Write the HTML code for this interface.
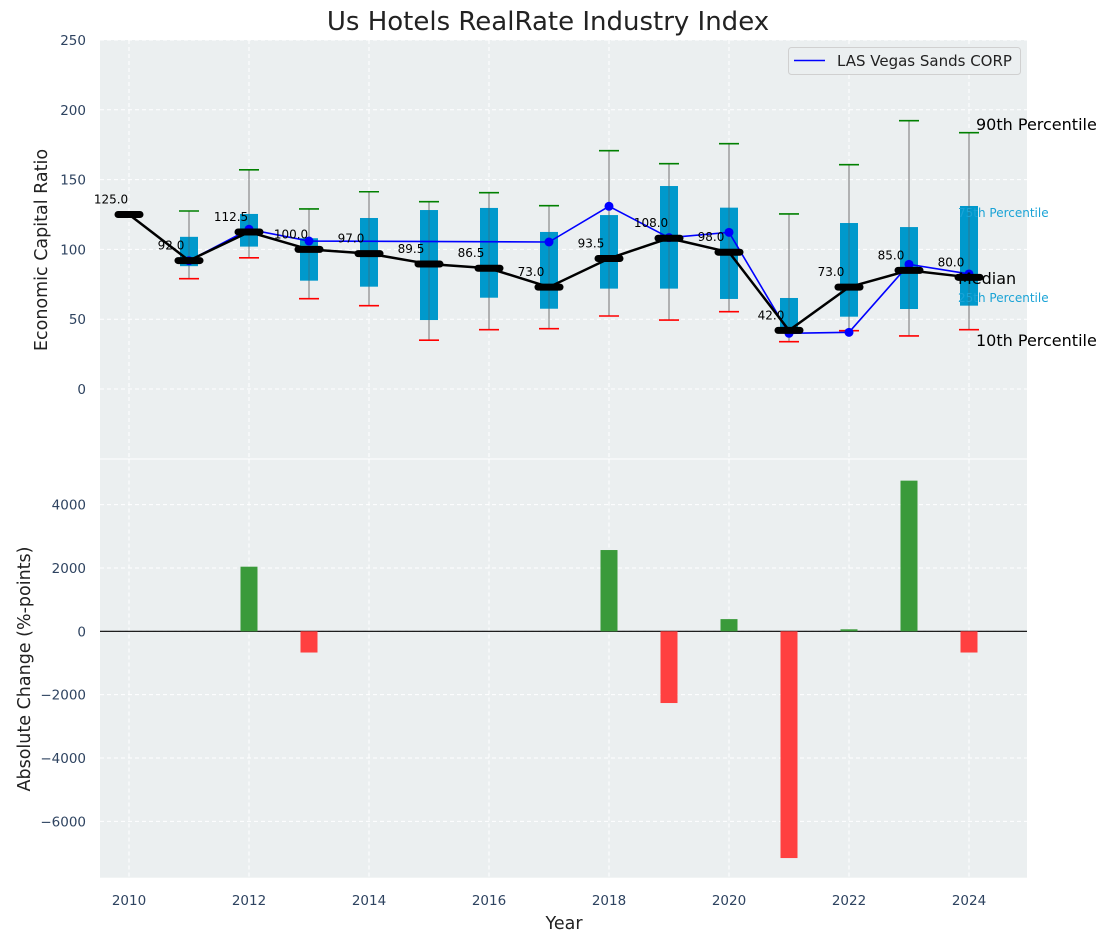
<!DOCTYPE html>
<html><head><meta charset="utf-8">
<style>
html,body{margin:0;padding:0;background:#fff;}
svg text{font-family:"DejaVu Sans","Liberation Sans",sans-serif;}
</style></head>
<body>
<svg id="chart" width="1111" height="942" xmlns="http://www.w3.org/2000/svg"></svg>
<script>
const years=[2010,2011,2012,2013,2014,2015,2016,2017,2018,2019,2020,2021,2022,2023,2024];
const medians=[125,92,112.5,100,97,89.5,86.5,73,93.5,108,98,42,73,85,80];
const p10=[null,79,94,64.7,59.7,35,42.5,43.2,52.3,49.4,55.4,33.9,41.8,38,42.5];
const p25=[null,88,102,77.6,73.3,49.4,65.4,57.5,71.9,71.9,64.5,40,51.8,57.3,59.7];
const p75=[null,109,125.4,108,122.5,128.2,129.7,112.5,124.6,145.4,129.9,65.2,118.9,116,131.1];
const p90=[null,127.5,157,129,141.3,134.2,140.6,131.3,170.7,161.4,175.7,125.4,160.7,192.2,183.6];
const compYears=[2011,2012,2013,2017,2018,2019,2020,2021,2022,2023,2024];
const compValues=[91.9,114.4,106,105.3,130.9,108.4,112.2,39.9,40.6,89.3,82.4];
const changeYears=[2012,2013,2018,2019,2020,2021,2022,2023,2024];
const changeValues=[2040,-670,2566,-2265,385,-7160,63,4757,-670];
const topTicks=[0,50,100,150,200,250];
const botTicks=[-6000,-4000,-2000,0,2000,4000];
const xTicks=[2010,2012,2014,2016,2018,2020,2022,2024];

const NS="http://www.w3.org/2000/svg";
const svg=document.getElementById('chart');
function el(tag,attrs,parent,text){const e=document.createElementNS(NS,tag);for(const k in attrs)e.setAttribute(k,attrs[k]);if(text!==undefined)e.textContent=text;(parent||svg).appendChild(e);return e;}
const L=100,R=1027,T1=40,B1=458.5,T2=459.5,B2=877.7;
const X=v=>129+(v-2010)*60;
const Y1=v=>389-v*1.396;
const Y2=v=>631.3-v*0.03167;

let t=el('text',{x:548,y:30,'text-anchor':'middle','font-size':26,fill:'#222'},svg,'Us Hotels RealRate Industry Index');


let g1=el('g',{});
el('rect',{x:L,y:T1,width:R-L,height:B1-T1,fill:'#ebeff0'},g1);
let g2=el('g',{});
el('rect',{x:L,y:T2,width:R-L,height:B2-T2,fill:'#ebeff0'},g2);

xTicks.forEach(v=>{
 el('line',{x1:X(v),x2:X(v),y1:T1,y2:B1,stroke:'#fff','stroke-dasharray':'4,3','stroke-width':1},g1);
 el('line',{x1:X(v),x2:X(v),y1:T2,y2:B2,stroke:'#fff','stroke-dasharray':'4,3','stroke-width':1},g2);
 let tl=el('text',{x:X(v),y:905,'text-anchor':'middle','font-size':13.5,fill:'#2e4360'},svg,String(v));
 
});
topTicks.forEach(v=>{
 el('line',{x1:L,x2:R,y1:Y1(v),y2:Y1(v),stroke:'#fff','stroke-dasharray':'4,3','stroke-width':1},g1);
 let tl=el('text',{x:86,y:Y1(v)+5,'text-anchor':'end','font-size':13.5,fill:'#2e4360'},svg,String(v));
 
});
botTicks.forEach(v=>{
 el('line',{x1:L,x2:R,y1:Y2(v),y2:Y2(v),stroke:'#fff','stroke-dasharray':'4,3','stroke-width':1},g2);
 let tl=el('text',{x:86,y:Y2(v)+5,'text-anchor':'end','font-size':13.5,fill:'#2e4360'},svg,String(v).replace('-','\u2212'));
 
});

years.forEach((yr,i)=>{
 if(p10[i]===null)return;
 const x=X(yr);
 let w=el('line',{x1:x,x2:x,y1:Y1(p10[i]),y2:Y1(p90[i]),stroke:'#888','stroke-width':1.2},g1);
 
 let b=el('rect',{x:x-9,y:Y1(p75[i]),width:18,height:Y1(p25[i])-Y1(p75[i]),fill:'#0099cc'},g1);
 
 el('line',{x1:x,x2:x,y1:Y1(p25[i]),y2:Y1(p75[i]),stroke:'#555','stroke-width':1,'stroke-opacity':0.5},g1);
 let c1=el('line',{x1:x-10,x2:x+10,y1:Y1(p90[i]),y2:Y1(p90[i]),stroke:'green','stroke-width':1.6},g1);
 
 let c2=el('line',{x1:x-10,x2:x+10,y1:Y1(p10[i]),y2:Y1(p10[i]),stroke:'red','stroke-width':1.6},g1);
 
});

let cp=compYears.map((y,i)=>X(y)+','+Y1(compValues[i])).join(' ');
let cl=el('polyline',{points:cp,fill:'none',stroke:'#0000ff','stroke-width':1.6},g1);

compYears.forEach((y,i)=>{
 let d=el('circle',{cx:X(y),cy:Y1(compValues[i]),r:4.5,fill:'#0000ff'},g1);
 
});

let mp=years.map((y,i)=>X(y)+','+Y1(medians[i])).join(' ');
let ml=el('polyline',{points:mp,fill:'none',stroke:'#000','stroke-width':2.5},g1);

years.forEach((y,i)=>{
 let m=el('line',{x1:X(y)-11,x2:X(y)+11,y1:Y1(medians[i]),y2:Y1(medians[i]),stroke:'#000','stroke-width':7,'stroke-linecap':'round'},g1);
 
 let lb=el('text',{x:X(y)-18,y:Y1(medians[i])-11,'text-anchor':'middle','font-size':12,fill:'#000'},svg,medians[i].toFixed(1));
 
});

el('line',{x1:L,x2:R,y1:Y2(0),y2:Y2(0),stroke:'#000','stroke-width':1.2},g2);
changeYears.forEach((y,i)=>{
 const v=changeValues[i];
 const y0=Y2(Math.max(v,0)),y1=Y2(Math.min(v,0));
 let b=el('rect',{x:X(y)-8.5,y:y0,width:17,height:Math.max(y1-y0,0.5),fill:v>=0?'#3a9a3a':'#ff4040'},g2);
 
});

let lg=el('g',{});
el('rect',{x:788.5,y:47.5,width:232,height:27,rx:3,fill:'#ebeff0',stroke:'#d0d0d0'},lg);
el('line',{x1:794,x2:825,y1:60.5,y2:60.5,stroke:'#0000ff','stroke-width':1.6},lg);
el('text',{x:837,y:66,'font-size':15,fill:'#222'},lg,'LAS Vegas Sands CORP');

const ann=[['90th Percentile',976,130,16,'#000'],['75th Percentile',958,217,12,'#1aa3d6'],['Median',958,284,16,'#000'],['25th Percentile',958,302,12,'#1aa3d6'],['10th Percentile',976,346,16,'#000']];
ann.forEach(a=>{let e=el('text',{x:a[1],y:a[2],'font-size':a[3],fill:a[4]},svg,a[0]);});

let yl=el('text',{x:0,y:0,transform:'translate(47,250) rotate(-90)','text-anchor':'middle','font-size':17.5,fill:'#222'},svg,'Economic Capital Ratio');

let yl2=el('text',{x:0,y:0,transform:'translate(30,669) rotate(-90)','text-anchor':'middle','font-size':17.5,fill:'#222'},svg,'Absolute Change (%-points)');

let xl=el('text',{x:564,y:929,'text-anchor':'middle','font-size':17.5,fill:'#222'},svg,'Year');

</script>
</body></html>
